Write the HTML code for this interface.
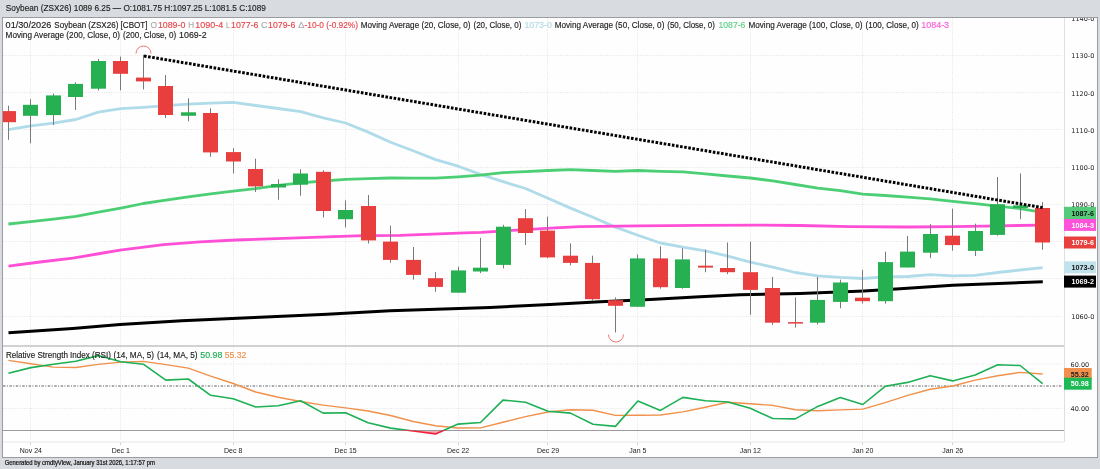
<!DOCTYPE html>
<html><head><meta charset="utf-8"><title>Soybean chart</title>
<style>
html,body{margin:0;padding:0;width:1100px;height:469px;overflow:hidden;background:#d8dbdf}
svg{display:block;will-change:transform}
</style></head><body>
<svg width="1100" height="469" viewBox="0 0 1100 469">
<rect x="0" y="0" width="1100" height="469" fill="#d8dbdf"/>
<rect x="2.5" y="17.5" width="1095" height="440" fill="#fefefe" stroke="#9a9c9f" stroke-width="1"/>
<line x1="3" y1="55.5" x2="1063" y2="55.5" stroke="#e6e6e6" stroke-width="1" stroke-dasharray="1,1.35"/>
<line x1="3" y1="92.5" x2="1063" y2="92.5" stroke="#e6e6e6" stroke-width="1" stroke-dasharray="1,1.35"/>
<line x1="3" y1="129.5" x2="1063" y2="129.5" stroke="#e6e6e6" stroke-width="1" stroke-dasharray="1,1.35"/>
<line x1="3" y1="167.5" x2="1063" y2="167.5" stroke="#e6e6e6" stroke-width="1" stroke-dasharray="1,1.35"/>
<line x1="3" y1="204.5" x2="1063" y2="204.5" stroke="#e6e6e6" stroke-width="1" stroke-dasharray="1,1.35"/>
<line x1="3" y1="241.5" x2="1063" y2="241.5" stroke="#e6e6e6" stroke-width="1" stroke-dasharray="1,1.35"/>
<line x1="3" y1="278.5" x2="1063" y2="278.5" stroke="#e6e6e6" stroke-width="1" stroke-dasharray="1,1.35"/>
<line x1="3" y1="316.5" x2="1063" y2="316.5" stroke="#e6e6e6" stroke-width="1" stroke-dasharray="1,1.35"/>
<line x1="30.5" y1="18" x2="30.5" y2="345" stroke="#e6e6e6" stroke-width="1" stroke-dasharray="1,1.35"/>
<line x1="30.5" y1="347" x2="30.5" y2="441" stroke="#e6e6e6" stroke-width="1" stroke-dasharray="1,1.35"/>
<line x1="30.5" y1="442" x2="30.5" y2="445" stroke="#d4d4d4" stroke-width="1"/>
<line x1="120.5" y1="18" x2="120.5" y2="345" stroke="#e6e6e6" stroke-width="1" stroke-dasharray="1,1.35"/>
<line x1="120.5" y1="347" x2="120.5" y2="441" stroke="#e6e6e6" stroke-width="1" stroke-dasharray="1,1.35"/>
<line x1="120.5" y1="442" x2="120.5" y2="445" stroke="#d4d4d4" stroke-width="1"/>
<line x1="233.5" y1="18" x2="233.5" y2="345" stroke="#e6e6e6" stroke-width="1" stroke-dasharray="1,1.35"/>
<line x1="233.5" y1="347" x2="233.5" y2="441" stroke="#e6e6e6" stroke-width="1" stroke-dasharray="1,1.35"/>
<line x1="233.5" y1="442" x2="233.5" y2="445" stroke="#d4d4d4" stroke-width="1"/>
<line x1="345.5" y1="18" x2="345.5" y2="345" stroke="#e6e6e6" stroke-width="1" stroke-dasharray="1,1.35"/>
<line x1="345.5" y1="347" x2="345.5" y2="441" stroke="#e6e6e6" stroke-width="1" stroke-dasharray="1,1.35"/>
<line x1="345.5" y1="442" x2="345.5" y2="445" stroke="#d4d4d4" stroke-width="1"/>
<line x1="458.5" y1="18" x2="458.5" y2="345" stroke="#e6e6e6" stroke-width="1" stroke-dasharray="1,1.35"/>
<line x1="458.5" y1="347" x2="458.5" y2="441" stroke="#e6e6e6" stroke-width="1" stroke-dasharray="1,1.35"/>
<line x1="458.5" y1="442" x2="458.5" y2="445" stroke="#d4d4d4" stroke-width="1"/>
<line x1="547.5" y1="18" x2="547.5" y2="345" stroke="#e6e6e6" stroke-width="1" stroke-dasharray="1,1.35"/>
<line x1="547.5" y1="347" x2="547.5" y2="441" stroke="#e6e6e6" stroke-width="1" stroke-dasharray="1,1.35"/>
<line x1="547.5" y1="442" x2="547.5" y2="445" stroke="#d4d4d4" stroke-width="1"/>
<line x1="637.5" y1="18" x2="637.5" y2="345" stroke="#e6e6e6" stroke-width="1" stroke-dasharray="1,1.35"/>
<line x1="637.5" y1="347" x2="637.5" y2="441" stroke="#e6e6e6" stroke-width="1" stroke-dasharray="1,1.35"/>
<line x1="637.5" y1="442" x2="637.5" y2="445" stroke="#d4d4d4" stroke-width="1"/>
<line x1="750.5" y1="18" x2="750.5" y2="345" stroke="#e6e6e6" stroke-width="1" stroke-dasharray="1,1.35"/>
<line x1="750.5" y1="347" x2="750.5" y2="441" stroke="#e6e6e6" stroke-width="1" stroke-dasharray="1,1.35"/>
<line x1="750.5" y1="442" x2="750.5" y2="445" stroke="#d4d4d4" stroke-width="1"/>
<line x1="862.5" y1="18" x2="862.5" y2="345" stroke="#e6e6e6" stroke-width="1" stroke-dasharray="1,1.35"/>
<line x1="862.5" y1="347" x2="862.5" y2="441" stroke="#e6e6e6" stroke-width="1" stroke-dasharray="1,1.35"/>
<line x1="862.5" y1="442" x2="862.5" y2="445" stroke="#d4d4d4" stroke-width="1"/>
<line x1="952.5" y1="18" x2="952.5" y2="345" stroke="#e6e6e6" stroke-width="1" stroke-dasharray="1,1.35"/>
<line x1="952.5" y1="347" x2="952.5" y2="441" stroke="#e6e6e6" stroke-width="1" stroke-dasharray="1,1.35"/>
<line x1="952.5" y1="442" x2="952.5" y2="445" stroke="#d4d4d4" stroke-width="1"/>
<line x1="3" y1="364.0" x2="1063" y2="364.0" stroke="#e6e6e6" stroke-width="1" stroke-dasharray="1,1.35"/>
<line x1="3" y1="408.5" x2="1063" y2="408.5" stroke="#e6e6e6" stroke-width="1" stroke-dasharray="1,1.35"/>
<line x1="3" y1="386" x2="1062" y2="386" stroke="#adadad" stroke-width="1.8" stroke-dasharray="2.5,1.4,1,1.5"/>
<line x1="1064.5" y1="18" x2="1064.5" y2="442" stroke="#dfdfdf" stroke-width="1"/>
<line x1="3" y1="346" x2="1064" y2="346" stroke="#c2c2c2" stroke-width="1.6"/>
<line x1="3" y1="442" x2="1064" y2="442" stroke="#e8e8e8" stroke-width="1.2"/>
<defs><clipPath id="plot"><rect x="3" y="18" width="1061" height="327.5"/></clipPath></defs><g clip-path="url(#plot)">
<polyline points="8.4,129.7 30.9,125.8 53.4,123.1 75.8,119.5 98.3,112.2 120.8,108.6 143.3,107.3 165.8,105.6 188.3,104.2 210.7,103.1 233.2,102.4 255.7,105.5 278.2,108.5 300.7,111.6 323.2,117.8 345.6,123.0 368.1,132.1 390.6,142.3 413.1,150.7 435.6,159.6 458.1,166.2 480.5,174.4 503.0,181.7 525.5,188.5 548.0,198.3 570.5,208.1 593.0,217.3 615.4,227.1 637.9,235.3 660.4,243.0 682.9,247.2 705.4,250.8 727.9,256.1 750.3,262.2 772.8,267.1 795.3,272.5 817.8,275.8 840.3,277.4 862.8,278.5 885.2,276.9 907.7,276.5 930.2,274.6 952.7,275.8 975.2,275.4 997.7,272.5 1020.1,270.0 1042.6,267.6" fill="none" stroke="#b0dbe9" stroke-width="2.8" stroke-linejoin="round"/>
<polyline points="8.4,224.0 30.9,221.7 53.4,219.1 75.8,216.3 98.3,212.2 120.8,208.1 143.3,203.5 165.8,200.1 188.3,196.8 210.7,193.9 233.2,191.1 255.7,188.6 278.2,185.4 300.7,182.9 323.2,181.0 345.6,179.3 368.1,178.6 390.6,178.0 413.1,178.1 435.6,178.1 458.1,176.8 480.5,175.2 503.0,172.7 525.5,171.6 548.0,170.5 570.5,169.6 593.0,170.5 615.4,171.3 637.9,170.5 660.4,171.3 682.9,171.9 705.4,173.9 727.9,176.0 750.3,178.0 772.8,180.9 795.3,184.5 817.8,188.1 840.3,190.6 862.8,194.2 885.2,195.5 907.7,197.2 930.2,198.8 952.7,201.3 975.2,203.7 997.7,206.2 1020.1,208.6 1042.6,212.3" fill="none" stroke="#4ccf74" stroke-width="2.8" stroke-linejoin="round"/>
<polyline points="8.5,266.2 40.0,262.0 72.7,258.2 100.0,253.5 120.0,250.2 163.6,244.7 200.0,241.8 236.0,240.0 290.9,238.2 363.6,235.6 400.0,235.3 465.0,232.9 481.0,232.3 555.0,227.8 580.0,226.6 638.0,225.8 700.0,225.4 760.0,225.1 800.0,225.5 850.0,226.6 908.5,227.0 953.5,226.6 998.5,225.8 1042.8,225.1" fill="none" stroke="#ff4fd6" stroke-width="2.8" stroke-linejoin="round"/>
<polyline points="8.5,332.7 72.7,328.4 120.0,324.4 181.8,320.7 254.5,317.5 327.0,314.2 390.0,310.7 490.0,307.5 550.0,304.4 600.0,301.8 650.0,299.6 700.0,296.7 740.0,294.8 800.0,293.4 864.0,290.9 900.0,288.7 952.8,285.3 1042.8,281.7" fill="none" stroke="#000" stroke-width="3" stroke-linejoin="round"/>
<line x1="8.5" y1="105.7" x2="8.5" y2="139.8" stroke="#7a7a7a" stroke-width="1"/>
<rect x="1" y="111.1" width="15" height="11.1" fill="#e83e3e"/>
<line x1="30.5" y1="99.2" x2="30.5" y2="143.3" stroke="#7a7a7a" stroke-width="1"/>
<rect x="23" y="104.8" width="15" height="11.0" fill="#26b052"/>
<line x1="53.5" y1="93.5" x2="53.5" y2="125.0" stroke="#7a7a7a" stroke-width="1"/>
<rect x="46" y="95.4" width="15" height="19.7" fill="#26b052"/>
<line x1="75.5" y1="82.3" x2="75.5" y2="110.0" stroke="#7a7a7a" stroke-width="1"/>
<rect x="68" y="83.9" width="15" height="13.1" fill="#26b052"/>
<line x1="98.5" y1="58.9" x2="98.5" y2="90.4" stroke="#7a7a7a" stroke-width="1"/>
<rect x="91" y="61.0" width="15" height="27.7" fill="#26b052"/>
<line x1="120.5" y1="56.6" x2="120.5" y2="90.4" stroke="#7a7a7a" stroke-width="1"/>
<rect x="113" y="61.0" width="15" height="12.8" fill="#e83e3e"/>
<line x1="143.5" y1="54.8" x2="143.5" y2="89.4" stroke="#7a7a7a" stroke-width="1"/>
<rect x="136" y="77.6" width="15" height="3.8" fill="#e83e3e"/>
<line x1="165.5" y1="75.0" x2="165.5" y2="118.0" stroke="#7a7a7a" stroke-width="1"/>
<rect x="158" y="86.0" width="15" height="29.0" fill="#e83e3e"/>
<line x1="188.5" y1="98.3" x2="188.5" y2="121.3" stroke="#7a7a7a" stroke-width="1"/>
<rect x="181" y="112.3" width="15" height="3.5" fill="#26b052"/>
<line x1="210.5" y1="108.3" x2="210.5" y2="156.8" stroke="#7a7a7a" stroke-width="1"/>
<rect x="203" y="113.0" width="15" height="39.4" fill="#e83e3e"/>
<line x1="233.5" y1="148.2" x2="233.5" y2="173.3" stroke="#7a7a7a" stroke-width="1"/>
<rect x="226" y="152.1" width="15" height="9.4" fill="#e83e3e"/>
<line x1="255.5" y1="158.7" x2="255.5" y2="192.0" stroke="#7a7a7a" stroke-width="1"/>
<rect x="248" y="169.0" width="15" height="17.4" fill="#e83e3e"/>
<line x1="278.5" y1="179.3" x2="278.5" y2="199.7" stroke="#7a7a7a" stroke-width="1"/>
<rect x="271" y="184.0" width="15" height="3.5" fill="#26b052"/>
<line x1="300.5" y1="169.2" x2="300.5" y2="195.7" stroke="#7a7a7a" stroke-width="1"/>
<rect x="293" y="173.5" width="15" height="11.2" fill="#26b052"/>
<line x1="323.5" y1="170.2" x2="323.5" y2="217.5" stroke="#7a7a7a" stroke-width="1"/>
<rect x="316" y="171.8" width="15" height="39.2" fill="#e83e3e"/>
<line x1="345.5" y1="200.4" x2="345.5" y2="227.4" stroke="#7a7a7a" stroke-width="1"/>
<rect x="338" y="210.0" width="15" height="9.2" fill="#26b052"/>
<line x1="368.5" y1="195.0" x2="368.5" y2="243.5" stroke="#7a7a7a" stroke-width="1"/>
<rect x="361" y="206.0" width="15" height="34.4" fill="#e83e3e"/>
<line x1="390.5" y1="225.6" x2="390.5" y2="262.7" stroke="#7a7a7a" stroke-width="1"/>
<rect x="383" y="241.6" width="15" height="18.3" fill="#e83e3e"/>
<line x1="413.5" y1="247.0" x2="413.5" y2="279.6" stroke="#7a7a7a" stroke-width="1"/>
<rect x="406" y="259.9" width="15" height="15.0" fill="#e83e3e"/>
<line x1="435.5" y1="272.1" x2="435.5" y2="291.8" stroke="#7a7a7a" stroke-width="1"/>
<rect x="428" y="278.2" width="15" height="8.7" fill="#e83e3e"/>
<line x1="458.5" y1="266.6" x2="458.5" y2="292.7" stroke="#7a7a7a" stroke-width="1"/>
<rect x="451" y="270.4" width="15" height="22.3" fill="#26b052"/>
<line x1="480.5" y1="237.9" x2="480.5" y2="273.1" stroke="#7a7a7a" stroke-width="1"/>
<rect x="473" y="267.7" width="15" height="3.8" fill="#26b052"/>
<line x1="503.5" y1="224.8" x2="503.5" y2="268.4" stroke="#7a7a7a" stroke-width="1"/>
<rect x="496" y="226.7" width="15" height="38.2" fill="#26b052"/>
<line x1="525.5" y1="209.1" x2="525.5" y2="245.0" stroke="#7a7a7a" stroke-width="1"/>
<rect x="518" y="218.2" width="15" height="14.8" fill="#e83e3e"/>
<line x1="547.5" y1="216.6" x2="547.5" y2="258.3" stroke="#7a7a7a" stroke-width="1"/>
<rect x="540" y="230.6" width="15" height="26.8" fill="#e83e3e"/>
<line x1="570.5" y1="243.4" x2="570.5" y2="265.4" stroke="#7a7a7a" stroke-width="1"/>
<rect x="563" y="255.7" width="15" height="7.2" fill="#e83e3e"/>
<line x1="592.5" y1="255.7" x2="592.5" y2="300.7" stroke="#7a7a7a" stroke-width="1"/>
<rect x="585" y="262.9" width="15" height="36.3" fill="#e83e3e"/>
<line x1="615.5" y1="297.4" x2="615.5" y2="332.4" stroke="#7a7a7a" stroke-width="1"/>
<rect x="608" y="300.2" width="15" height="5.6" fill="#e83e3e"/>
<line x1="637.5" y1="254.5" x2="637.5" y2="306.8" stroke="#7a7a7a" stroke-width="1"/>
<rect x="630" y="258.4" width="15" height="48.4" fill="#26b052"/>
<line x1="660.5" y1="246.3" x2="660.5" y2="288.7" stroke="#7a7a7a" stroke-width="1"/>
<rect x="653" y="258.4" width="15" height="28.8" fill="#e83e3e"/>
<line x1="682.5" y1="248.2" x2="682.5" y2="288.7" stroke="#7a7a7a" stroke-width="1"/>
<rect x="675" y="259.4" width="15" height="28.6" fill="#26b052"/>
<line x1="705.5" y1="249.8" x2="705.5" y2="272.2" stroke="#7a7a7a" stroke-width="1"/>
<rect x="698" y="265.7" width="15" height="1.9" fill="#e83e3e"/>
<line x1="727.5" y1="242.5" x2="727.5" y2="274.2" stroke="#7a7a7a" stroke-width="1"/>
<rect x="720" y="268.0" width="15" height="4.2" fill="#e83e3e"/>
<line x1="750.5" y1="241.7" x2="750.5" y2="314.8" stroke="#7a7a7a" stroke-width="1"/>
<rect x="743" y="272.2" width="15" height="17.7" fill="#e83e3e"/>
<line x1="772.5" y1="276.9" x2="772.5" y2="324.9" stroke="#7a7a7a" stroke-width="1"/>
<rect x="765" y="288.0" width="15" height="34.7" fill="#e83e3e"/>
<line x1="795.5" y1="297.4" x2="795.5" y2="327.6" stroke="#7a7a7a" stroke-width="1"/>
<rect x="788" y="322.1" width="15" height="1.5" fill="#e83e3e"/>
<line x1="817.5" y1="276.9" x2="817.5" y2="324.4" stroke="#7a7a7a" stroke-width="1"/>
<rect x="810" y="299.9" width="15" height="22.8" fill="#26b052"/>
<line x1="840.5" y1="279.7" x2="840.5" y2="308.3" stroke="#7a7a7a" stroke-width="1"/>
<rect x="833" y="282.5" width="15" height="19.4" fill="#26b052"/>
<line x1="862.5" y1="269.8" x2="862.5" y2="303.6" stroke="#7a7a7a" stroke-width="1"/>
<rect x="855" y="297.7" width="15" height="3.5" fill="#e83e3e"/>
<line x1="885.5" y1="251.6" x2="885.5" y2="303.6" stroke="#7a7a7a" stroke-width="1"/>
<rect x="878" y="262.1" width="15" height="39.1" fill="#26b052"/>
<line x1="907.5" y1="235.9" x2="907.5" y2="267.5" stroke="#7a7a7a" stroke-width="1"/>
<rect x="900" y="251.6" width="15" height="15.9" fill="#26b052"/>
<line x1="930.5" y1="223.9" x2="930.5" y2="258.1" stroke="#7a7a7a" stroke-width="1"/>
<rect x="923" y="234.0" width="15" height="18.7" fill="#26b052"/>
<line x1="952.5" y1="208.7" x2="952.5" y2="250.7" stroke="#7a7a7a" stroke-width="1"/>
<rect x="945" y="235.7" width="15" height="9.4" fill="#e83e3e"/>
<line x1="975.5" y1="223.7" x2="975.5" y2="256.1" stroke="#7a7a7a" stroke-width="1"/>
<rect x="968" y="231.0" width="15" height="19.9" fill="#26b052"/>
<line x1="997.5" y1="177.0" x2="997.5" y2="235.7" stroke="#7a7a7a" stroke-width="1"/>
<rect x="990" y="204.2" width="15" height="30.7" fill="#26b052"/>
<line x1="1020.5" y1="173.5" x2="1020.5" y2="219.2" stroke="#7a7a7a" stroke-width="1"/>
<rect x="1013" y="205.4" width="15" height="2.6" fill="#26b052"/>
<line x1="1042.5" y1="202.2" x2="1042.5" y2="249.7" stroke="#7a7a7a" stroke-width="1"/>
<rect x="1035" y="208.0" width="15" height="34.5" fill="#e83e3e"/>
<line x1="144" y1="56" x2="1042.5" y2="207.6" stroke="#000" stroke-width="3" stroke-dasharray="2.6,1.55"/>
</g>
<path d="M136,53.5 A7.5,7.5 0 0 1 151,53.5" fill="none" stroke="#ef7676" stroke-width="1"/>
<path d="M608.5,334.5 A7.5,7.5 0 0 0 623.5,334.5" fill="none" stroke="#ef7676" stroke-width="1"/>
<defs><clipPath id="ab"><rect x="0" y="340" width="1100" height="90.25"/></clipPath><clipPath id="bl"><rect x="0" y="430.25" width="1100" height="20"/></clipPath></defs>
<polyline points="8.4,360.4 30.9,363.8 53.4,367.1 75.8,367.5 98.3,364.4 120.8,362.1 143.3,361.4 165.8,364.6 188.3,368.1 210.7,376.1 233.2,383.5 255.7,392.0 278.2,397.2 300.7,401.5 323.2,405.1 345.6,407.9 368.1,411.0 390.6,415.5 413.1,421.5 435.6,425.7 458.1,428.0 480.5,427.9 503.0,422.3 525.5,416.6 548.0,412.0 570.5,409.8 593.0,410.2 615.4,415.4 637.9,415.2 660.4,415.0 682.9,411.9 705.4,407.2 727.9,402.3 750.3,403.8 772.8,405.4 795.3,409.7 817.8,410.8 840.3,409.9 862.8,409.1 885.2,402.7 907.7,395.4 930.2,389.3 952.7,386.0 975.2,380.1 997.7,375.8 1020.1,372.4 1042.6,374.0" fill="none" stroke="#f0904a" stroke-width="1.4" stroke-linejoin="round"/>
<polygon points="8.4,430.2 8.4,373.2 30.9,367.6 53.4,364.2 75.8,361.3 98.3,355.6 120.8,361.7 143.3,364.2 165.8,380.1 188.3,379.0 210.7,395.3 233.2,398.7 255.7,407.0 278.2,405.8 300.7,400.7 323.2,413.1 345.6,412.7 368.1,422.7 390.6,428.1 413.1,431.0 435.6,433.9 458.1,424.1 480.5,422.5 503.0,400.1 525.5,402.2 548.0,411.2 570.5,413.1 593.0,424.3 615.4,426.4 637.9,401.0 660.4,410.4 682.9,397.4 705.4,400.7 727.9,402.0 750.3,408.3 772.8,418.5 795.3,418.9 817.8,406.4 840.3,397.4 862.8,404.5 885.2,386.3 907.7,382.4 930.2,375.7 952.7,380.9 975.2,375.1 997.7,364.8 1020.1,365.5 1042.6,383.6 1042.6,430.2" fill="#f6a9b2" clip-path="url(#bl)"/>
<line x1="3" y1="430.5" x2="1064" y2="430.5" stroke="#9d9a9b" stroke-width="1.1"/>
<polyline points="8.4,373.2 30.9,367.6 53.4,364.2 75.8,361.3 98.3,355.6 120.8,361.7 143.3,364.2 165.8,380.1 188.3,379.0 210.7,395.3 233.2,398.7 255.7,407.0 278.2,405.8 300.7,400.7 323.2,413.1 345.6,412.7 368.1,422.7 390.6,428.1 413.1,431.0 435.6,433.9 458.1,424.1 480.5,422.5 503.0,400.1 525.5,402.2 548.0,411.2 570.5,413.1 593.0,424.3 615.4,426.4 637.9,401.0 660.4,410.4 682.9,397.4 705.4,400.7 727.9,402.0 750.3,408.3 772.8,418.5 795.3,418.9 817.8,406.4 840.3,397.4 862.8,404.5 885.2,386.3 907.7,382.4 930.2,375.7 952.7,380.9 975.2,375.1 997.7,364.8 1020.1,365.5 1042.6,383.6" fill="none" stroke="#1db054" stroke-width="1.6" stroke-linejoin="round" clip-path="url(#ab)"/>
<polyline points="8.4,373.2 30.9,367.6 53.4,364.2 75.8,361.3 98.3,355.6 120.8,361.7 143.3,364.2 165.8,380.1 188.3,379.0 210.7,395.3 233.2,398.7 255.7,407.0 278.2,405.8 300.7,400.7 323.2,413.1 345.6,412.7 368.1,422.7 390.6,428.1 413.1,431.0 435.6,433.9 458.1,424.1 480.5,422.5 503.0,400.1 525.5,402.2 548.0,411.2 570.5,413.1 593.0,424.3 615.4,426.4 637.9,401.0 660.4,410.4 682.9,397.4 705.4,400.7 727.9,402.0 750.3,408.3 772.8,418.5 795.3,418.9 817.8,406.4 840.3,397.4 862.8,404.5 885.2,386.3 907.7,382.4 930.2,375.7 952.7,380.9 975.2,375.1 997.7,364.8 1020.1,365.5 1042.6,383.6" fill="none" stroke="#f0243c" stroke-width="1.6" stroke-linejoin="round" clip-path="url(#bl)"/>
<text x="5.8" y="10.7" font-family="Liberation Sans" font-size="9" fill="#1e1e1e" stroke="#1e1e1e" stroke-width="0.15" textLength="260.1" lengthAdjust="spacingAndGlyphs">Soybean (ZSX26) 1089 6.25 — O:1081.75 H:1097.25 L:1081.5 C:1089</text>
<text x="5.6" y="27.8" font-family="Liberation Sans" font-size="8.8" fill="#1c1c1c" stroke="#1c1c1c" stroke-width="0.15" textLength="45.7" lengthAdjust="spacingAndGlyphs">01/30/2026</text>
<text x="54.3" y="27.8" font-family="Liberation Sans" font-size="8.8" fill="#1c1c1c" stroke="#1c1c1c" stroke-width="0.15" textLength="93.2" lengthAdjust="spacingAndGlyphs">Soybean (ZSX26) [CBOT]</text>
<text x="150.5" y="27.8" font-family="Liberation Sans" font-size="8.8" fill="#aaa" stroke="#aaa" stroke-width="0.15" textLength="6.5" lengthAdjust="spacingAndGlyphs">O</text>
<text x="157.9" y="27.8" font-family="Liberation Sans" font-size="8.8" fill="#e8474b" stroke="#e8474b" stroke-width="0.15" textLength="27.5" lengthAdjust="spacingAndGlyphs">1089-0</text>
<text x="188.3" y="27.8" font-family="Liberation Sans" font-size="8.8" fill="#aaa" stroke="#aaa" stroke-width="0.15" textLength="5.9" lengthAdjust="spacingAndGlyphs">H</text>
<text x="195.3" y="27.8" font-family="Liberation Sans" font-size="8.8" fill="#e8474b" stroke="#e8474b" stroke-width="0.15" textLength="27.9" lengthAdjust="spacingAndGlyphs">1090-4</text>
<text x="226.0" y="27.8" font-family="Liberation Sans" font-size="8.8" fill="#aaa" stroke="#aaa" stroke-width="0.15" textLength="3.9" lengthAdjust="spacingAndGlyphs">L</text>
<text x="231.0" y="27.8" font-family="Liberation Sans" font-size="8.8" fill="#e8474b" stroke="#e8474b" stroke-width="0.15" textLength="27.5" lengthAdjust="spacingAndGlyphs">1077-6</text>
<text x="260.9" y="27.8" font-family="Liberation Sans" font-size="8.8" fill="#aaa" stroke="#aaa" stroke-width="0.15" textLength="6.5" lengthAdjust="spacingAndGlyphs">C</text>
<text x="268.1" y="27.8" font-family="Liberation Sans" font-size="8.8" fill="#e8474b" stroke="#e8474b" stroke-width="0.15" textLength="27.3" lengthAdjust="spacingAndGlyphs">1079-6</text>
<text x="298.2" y="27.8" font-family="Liberation Sans" font-size="8.8" fill="#aaa" stroke="#aaa" stroke-width="0.15" textLength="6.1" lengthAdjust="spacingAndGlyphs">Δ</text>
<text x="304.5" y="27.8" font-family="Liberation Sans" font-size="8.8" fill="#e8474b" stroke="#e8474b" stroke-width="0.15" textLength="53.5" lengthAdjust="spacingAndGlyphs">-10-0 (-0.92%)</text>
<text x="360.7" y="27.8" font-family="Liberation Sans" font-size="8.8" fill="#1c1c1c" stroke="#1c1c1c" stroke-width="0.15" textLength="109.9" lengthAdjust="spacingAndGlyphs">Moving Average (20, Close, 0)</text>
<text x="473.5" y="27.8" font-family="Liberation Sans" font-size="8.8" fill="#1c1c1c" stroke="#1c1c1c" stroke-width="0.15" textLength="47.9" lengthAdjust="spacingAndGlyphs">(20, Close, 0)</text>
<text x="524.4" y="27.8" font-family="Liberation Sans" font-size="8.8" fill="#b3dbe8" stroke="#b3dbe8" stroke-width="0.15" textLength="27.5" lengthAdjust="spacingAndGlyphs">1073-0</text>
<text x="554.7" y="27.8" font-family="Liberation Sans" font-size="8.8" fill="#1c1c1c" stroke="#1c1c1c" stroke-width="0.15" textLength="109.7" lengthAdjust="spacingAndGlyphs">Moving Average (50, Close, 0)</text>
<text x="667.3" y="27.8" font-family="Liberation Sans" font-size="8.8" fill="#1c1c1c" stroke="#1c1c1c" stroke-width="0.15" textLength="47.6" lengthAdjust="spacingAndGlyphs">(50, Close, 0)</text>
<text x="718.5" y="27.8" font-family="Liberation Sans" font-size="8.8" fill="#5cd088" stroke="#5cd088" stroke-width="0.15" textLength="26.9" lengthAdjust="spacingAndGlyphs">1087-6</text>
<text x="748.4" y="27.8" font-family="Liberation Sans" font-size="8.8" fill="#1c1c1c" stroke="#1c1c1c" stroke-width="0.15" textLength="114.2" lengthAdjust="spacingAndGlyphs">Moving Average (100, Close, 0)</text>
<text x="865.6" y="27.8" font-family="Liberation Sans" font-size="8.8" fill="#1c1c1c" stroke="#1c1c1c" stroke-width="0.15" textLength="53.0" lengthAdjust="spacingAndGlyphs">(100, Close, 0)</text>
<text x="921.3" y="27.8" font-family="Liberation Sans" font-size="8.8" fill="#ff5ad9" stroke="#ff5ad9" stroke-width="0.15" textLength="27.8" lengthAdjust="spacingAndGlyphs">1084-3</text>
<text x="5.6" y="38.3" font-family="Liberation Sans" font-size="8.8" fill="#1c1c1c" stroke="#1c1c1c" stroke-width="0.15" textLength="114.4" lengthAdjust="spacingAndGlyphs">Moving Average (200, Close, 0)</text>
<text x="123.1" y="38.3" font-family="Liberation Sans" font-size="8.8" fill="#1c1c1c" stroke="#1c1c1c" stroke-width="0.15" textLength="53.0" lengthAdjust="spacingAndGlyphs">(200, Close, 0)</text>
<text x="179.1" y="38.3" font-family="Liberation Sans" font-size="8.8" fill="#1c1c1c" stroke="#1c1c1c" stroke-width="0.15" textLength="27.6" lengthAdjust="spacingAndGlyphs">1069-2</text>
<text x="6.0" y="357.7" font-family="Liberation Sans" font-size="8.8" fill="#1c1c1c" stroke="#1c1c1c" stroke-width="0.15" textLength="104.9" lengthAdjust="spacingAndGlyphs">Relative Strength Index (RSI)</text>
<text x="113.4" y="357.7" font-family="Liberation Sans" font-size="8.8" fill="#1c1c1c" stroke="#1c1c1c" stroke-width="0.15" textLength="40.7" lengthAdjust="spacingAndGlyphs">(14, MA, 5)</text>
<text x="156.9" y="357.7" font-family="Liberation Sans" font-size="8.8" fill="#1c1c1c" stroke="#1c1c1c" stroke-width="0.15" textLength="40.7" lengthAdjust="spacingAndGlyphs">(14, MA, 5)</text>
<text x="200.3" y="357.7" font-family="Liberation Sans" font-size="8.8" fill="#1db054" stroke="#1db054" stroke-width="0.15" textLength="22.1" lengthAdjust="spacingAndGlyphs">50.98</text>
<text x="224.8" y="357.7" font-family="Liberation Sans" font-size="8.8" fill="#f0904a" stroke="#f0904a" stroke-width="0.15" textLength="21.5" lengthAdjust="spacingAndGlyphs">55.32</text>
<defs><clipPath id="rax"><rect x="1065" y="18" width="32" height="327"/></clipPath></defs><g clip-path="url(#rax)">
<text x="1094.3" y="21.0" text-anchor="end" font-family="DejaVu Sans" font-size="6.5" fill="#1a1a1a">1140-0</text>
<text x="1094.3" y="58.3" text-anchor="end" font-family="DejaVu Sans" font-size="6.5" fill="#1a1a1a">1130-0</text>
<text x="1094.3" y="95.6" text-anchor="end" font-family="DejaVu Sans" font-size="6.5" fill="#1a1a1a">1120-0</text>
<text x="1094.3" y="132.9" text-anchor="end" font-family="DejaVu Sans" font-size="6.5" fill="#1a1a1a">1110-0</text>
<text x="1094.3" y="170.1" text-anchor="end" font-family="DejaVu Sans" font-size="6.5" fill="#1a1a1a">1100-0</text>
<text x="1094.3" y="207.4" text-anchor="end" font-family="DejaVu Sans" font-size="6.5" fill="#1a1a1a">1090-0</text>
<text x="1094.3" y="319.3" text-anchor="end" font-family="DejaVu Sans" font-size="6.5" fill="#1a1a1a">1060-0</text>
</g>
<rect x="1064" y="206.8" width="32" height="12.2" fill="#55ca79"/>
<text x="1094.0" y="215.5" text-anchor="end" font-family="Liberation Sans" font-size="7.2" fill="#111" font-weight="bold">1087-6</text>
<rect x="1064" y="219.0" width="32" height="11.9" fill="#ff52da"/>
<text x="1094.0" y="227.5" text-anchor="end" font-family="Liberation Sans" font-size="7.2" fill="#fff" font-weight="bold">1084-3</text>
<rect x="1064" y="236.5" width="32" height="12.0" fill="#e8403f"/>
<text x="1094.0" y="245.1" text-anchor="end" font-family="Liberation Sans" font-size="7.2" fill="#fff" font-weight="bold">1079-6</text>
<rect x="1064" y="261.3" width="32" height="12.0" fill="#c2e3ec"/>
<text x="1094.0" y="269.9" text-anchor="end" font-family="Liberation Sans" font-size="7.2" fill="#111" font-weight="bold">1073-0</text>
<rect x="1064" y="275.6" width="32" height="12.0" fill="#000"/>
<text x="1094.0" y="284.2" text-anchor="end" font-family="Liberation Sans" font-size="7.2" fill="#fff" font-weight="bold">1069-2</text>
<text x="1089.2" y="366.6" text-anchor="end" font-family="DejaVu Sans" font-size="6.5" fill="#222">60.00</text>
<text x="1089.2" y="410.8" text-anchor="end" font-family="DejaVu Sans" font-size="6.5" fill="#222">40.00</text>
<rect x="1064" y="368" width="27.7" height="12" fill="#f0904c"/>
<text x="1088.8" y="376.5" text-anchor="end" font-family="Liberation Sans" font-size="7.2" fill="#222" font-weight="bold">55.32</text>
<rect x="1064" y="377.7" width="27.7" height="12" fill="#1db954"/>
<text x="1088.8" y="386.3" text-anchor="end" font-family="Liberation Sans" font-size="7.2" fill="#fff" font-weight="bold">50.98</text>
<text x="30.9" y="453.1" text-anchor="middle" font-family="Liberation Sans" font-size="7" fill="#222">Nov 24</text>
<text x="120.8" y="453.1" text-anchor="middle" font-family="Liberation Sans" font-size="7" fill="#222">Dec 1</text>
<text x="233.2" y="453.1" text-anchor="middle" font-family="Liberation Sans" font-size="7" fill="#222">Dec 8</text>
<text x="345.6" y="453.1" text-anchor="middle" font-family="Liberation Sans" font-size="7" fill="#222">Dec 15</text>
<text x="458.1" y="453.1" text-anchor="middle" font-family="Liberation Sans" font-size="7" fill="#222">Dec 22</text>
<text x="548.0" y="453.1" text-anchor="middle" font-family="Liberation Sans" font-size="7" fill="#222">Dec 29</text>
<text x="637.9" y="453.1" text-anchor="middle" font-family="Liberation Sans" font-size="7" fill="#222">Jan 5</text>
<text x="750.3" y="453.1" text-anchor="middle" font-family="Liberation Sans" font-size="7" fill="#222">Jan 12</text>
<text x="862.8" y="453.1" text-anchor="middle" font-family="Liberation Sans" font-size="7" fill="#222">Jan 20</text>
<text x="952.7" y="453.1" text-anchor="middle" font-family="Liberation Sans" font-size="7" fill="#222">Jan 26</text>
<text x="4.7" y="465.1" font-family="Liberation Sans" font-size="6.4" fill="#111" stroke="#111" stroke-width="0.2" textLength="150.2" lengthAdjust="spacingAndGlyphs">Generated by cmdtyView, January 31st 2026, 1:17:57 pm</text>
</svg>
</body></html>
